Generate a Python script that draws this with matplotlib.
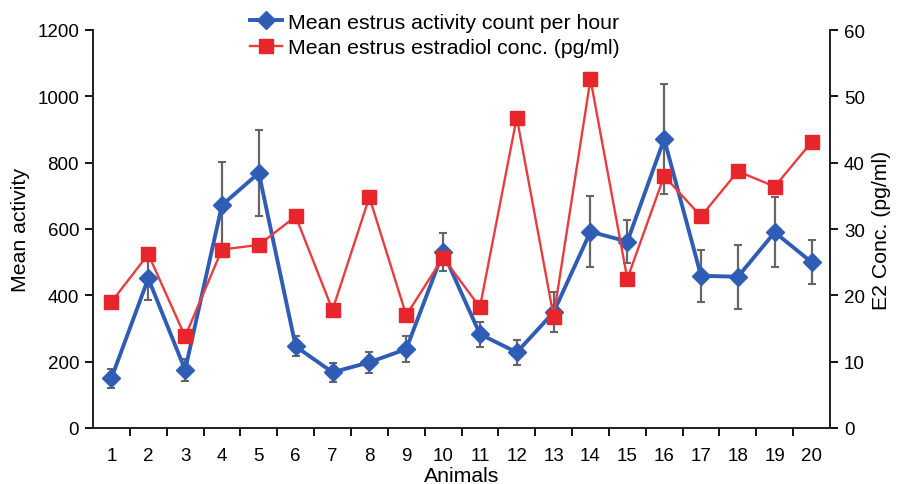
import numpy as np
import matplotlib
matplotlib.use('Agg')
import matplotlib.pyplot as plt
from matplotlib.ticker import FixedLocator

plt.rcParams['font.family'] = ['Liberation Sans', 'DejaVu Sans']

# 数据
animals = list(range(1, 21))
activity = [150, 451, 175, 672, 769, 246, 168, 198, 238, 530,
            283, 228, 349, 592, 562, 871, 459, 456, 590, 500]
activity_err = [28, 65, 32, 131, 130, 30, 28, 32, 40, 58,
                38, 37, 60, 107, 65, 165, 78, 97, 106, 66]
estradiol = [19.0, 26.2, 13.8, 26.9, 27.6, 31.9, 17.8, 34.8, 17.0, 25.7,
             18.2, 46.8, 16.8, 52.6, 22.5, 38.0, 31.9, 38.7, 36.4, 43.1]

blue = '#2f5db5'
red = '#e6262b'
fs = 13.5      # 刻度字号
lfs = 15.3     # 轴标题/图例字号

fig = plt.figure(figsize=(8.98, 4.85), dpi=100)
ax = fig.add_axes([93/898, 1-429/485, (830-93)/898, (429-31)/485])
ax2 = ax.twinx()

# 活动量（左轴）
ax.errorbar(animals, activity, yerr=activity_err, fmt='none',
            ecolor='#666666', elinewidth=1.6, capsize=3, capthick=1.5, zorder=2)
l1, = ax.plot(animals, activity, color=blue, lw=2.8, marker='D', ms=9.5,
              mfc=blue, mec=blue, zorder=3,
              label='Mean estrus activity count per hour')

# 雌二醇浓度（右轴）
l2, = ax2.plot(animals, estradiol, color='#e93c3f', lw=1.7, marker='s', ms=9.5,
               mfc=red, mec=red, zorder=3,
               label='Mean estrus estradiol conc. (pg/ml)')

ax.set_xlim(0.5, 20.5)
ax.set_ylim(0, 1200)
ax2.set_ylim(0, 60)
ax.set_yticks(range(0, 1201, 200))
ax2.set_yticks(range(0, 61, 10))
ax.set_xticks(animals)
ax.xaxis.set_minor_locator(FixedLocator(np.arange(1.5, 20.5, 1)))
ax.tick_params(axis='x', which='major', length=0, pad=14, labelsize=fs)
ax.tick_params(axis='x', which='minor', length=6, width=1.3, direction='out')
ax.tick_params(axis='y', length=6, width=1.3, labelsize=fs, pad=4)
ax2.tick_params(axis='y', length=6, width=1.3, labelsize=fs, pad=4)

for a in (ax, ax2):
    a.spines['top'].set_visible(False)
    for s in ('left', 'right', 'bottom'):
        a.spines[s].set_linewidth(1.3)
        a.spines[s].set_color('#222222')

ax.set_xlabel('Animals', fontsize=lfs, labelpad=1)
ax.set_ylabel('Mean activity', fontsize=lfs, labelpad=5)
ax2.set_ylabel('E2 Conc. (pg/ml)', fontsize=lfs, labelpad=5)

fig.legend(handles=[l1, l2], loc='upper left', bbox_to_anchor=(236/898, 1.0),
           frameon=False, fontsize=lfs, handlelength=1.5, handletextpad=0.3,
           labelspacing=0.3, borderaxespad=0.25)

fig.savefig('out.png', dpi=100)
